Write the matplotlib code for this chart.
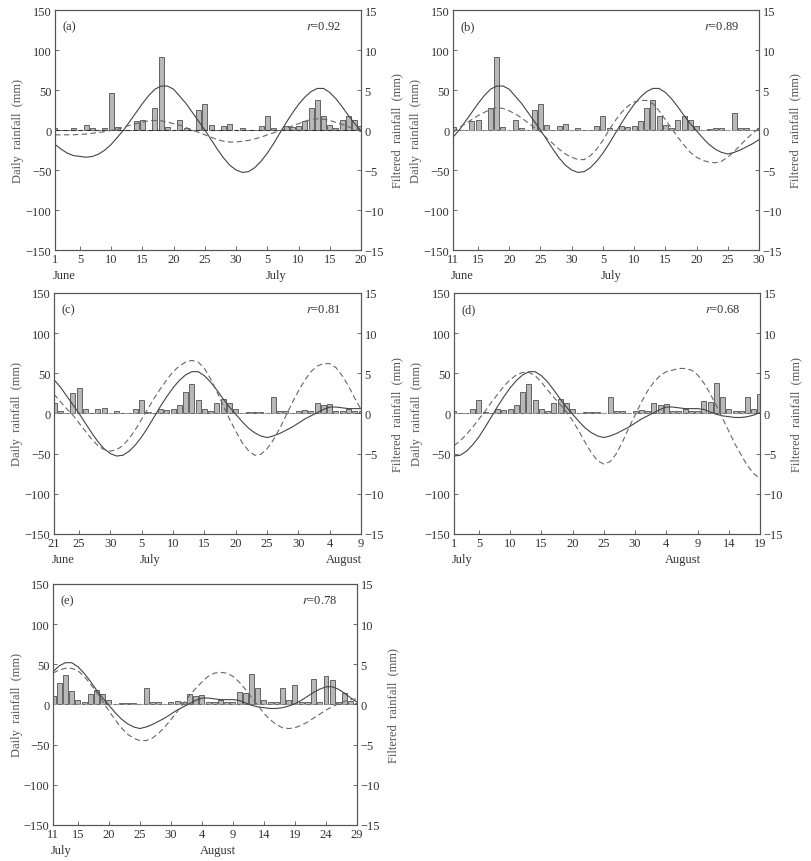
import pandas as pd
import matplotlib
matplotlib.use("Agg")
import matplotlib.pyplot as plt

plt.rcParams["font.family"] = ["Liberation Serif", "DejaVu Serif"]
plt.rcParams["mathtext.fontset"] = "stix"

# one daily series, 1 June - 29 August
dates = pd.date_range("2000-06-01", "2000-08-29")

rain_june = [2, 0, 0, 3, 0, 6, 2, 0, 2, 46, 4, 0, 0, 11, 12, 0, 27, 91, 4, 0,
             13, 3, 0, 25, 32, 6, 0, 5, 7, 0]
rain_july = [2.5, 0, 0, 5, 17, 2, 0, 5, 4, 5, 11, 27, 37, 17, 6, 3, 13, 18, 13, 5,
             0, 1.5, 2, 2, 0, 21, 3, 3, 0, 3, 4]
rain_aug = [3, 13, 10, 12, 3, 3, 5, 3, 3, 16, 14, 38, 20, 6, 3, 3, 20, 6, 24, 3,
            3, 32, 3, 36, 30, 3, 14, 4, 2]
rain = rain_june + rain_july + rain_aug

# filtered observed rainfall (solid line)
filt_june = [-1.8, -2.4, -2.9, -3.2, -3.3, -3.4, -3.3, -3.0, -2.5, -1.8, -0.9, 0.0,
             1.1, 2.2, 3.3, 4.3, 5.1, 5.5, 5.5, 5.1, 4.2, 3.3, 2.2, 1.1, 0.0, -1.2,
             -2.4, -3.5, -4.4, -5.0]
filt_july = [-5.3, -5.2, -4.7, -3.9, -2.9, -1.7, -0.4, 0.9, 2.1, 3.2, 4.1, 4.8, 5.2,
             5.2, 4.7, 3.9, 2.9, 1.8, 0.8, -0.1, -1.0, -1.8, -2.4, -2.8, -3.0, -2.8,
             -2.5, -2.1, -1.7, -1.2, -0.7]
filt_aug = [-0.3, 0.1, 0.5, 0.8, 0.8, 0.7, 0.6, 0.6, 0.6, 0.5, 0.2, -0.1, -0.3, -0.4,
            -0.5, -0.5, -0.4, -0.2, 0.1, 0.5, 1.0, 1.5, 1.9, 2.2, 2.2, 1.9, 1.4, 0.8, 0.3]
filtered = filt_june + filt_july + filt_aug

# predicted filtered rainfall (dashed line), one per panel
pred_a = [-0.6, -0.6, -0.6, -0.6, -0.55, -0.5, -0.4, -0.3, -0.2, -0.05, 0.1, 0.35,
          0.6, 0.8, 1.0, 1.15, 1.2, 1.15, 1.0, 0.8, 0.6, 0.3, 0.0, -0.3, -0.6, -0.9,
          -1.2, -1.4, -1.5, -1.5, -1.4, -1.3, -1.1, -0.9, -0.6, -0.35, -0.1, 0.2,
          0.5, 0.8, 1.1, 1.3, 1.4, 1.35, 1.2, 0.95, 0.7, 0.4, 0.1, -0.2]
pred_b = [-0.3, 0.3, 0.8, 1.3, 1.8, 2.2, 2.6, 2.8, 2.7, 2.4, 2.0, 1.5, 0.9, 0.3,
          -0.2, -1.0, -1.7, -2.4, -3.0, -3.4, -3.7, -3.7, -3.2, -2.4, -1.3, 0.0,
          1.2, 2.2, 3.0, 3.5, 3.7, 3.7, 3.3, 2.4, 1.3, 0.2, -0.9, -1.9, -2.8, -3.4,
          -3.8, -4.0, -4.1, -3.9, -3.4, -2.7, -1.9, -1.1, -0.4, 0.2]
pred_c = [2.4, 1.5, 0.6, -0.2, -1.2, -2.2, -3.2, -4.0, -4.5, -4.7,
          -4.5, -4.0, -3.1, -2.0, -0.7, 0.6, 1.9, 3.1, 4.2, 5.2, 5.9, 6.4, 6.6, 6.4,
          5.6, 4.3, 2.7, 1.0, -0.7, -2.2, -3.6, -4.6, -5.2, -5.1, -4.4, -3.3, -1.9,
          -0.3, 1.3, 2.8, 4.1,
          5.2, 5.9, 6.2, 6.2, 5.7, 4.7, 3.4, 1.9, 0.5]
pred_d = [-4.0, -3.4, -2.6, -1.7, -0.7, 0.3, 1.4, 2.4, 3.4, 4.2, 4.8, 5.1, 5.1, 4.7,
          3.9, 2.9, 2.0, 1.1, 0.2, -0.9, -2.2, -3.6, -4.9, -5.9, -6.3, -6.0, -5.0,
          -3.5, -1.8, -0.2, 1.4,
          2.8, 3.9, 4.7, 5.2, 5.4, 5.6, 5.6, 5.4, 4.8, 3.8, 2.5, 1.0, -0.6, -2.2,
          -3.8, -5.2, -6.5, -7.5, -8.1]
pred_e = [3.9, 4.3, 4.5, 4.5, 4.2, 3.5, 2.6, 1.5, 0.4, -0.8, -1.9, -2.9, -3.7, -4.2,
          -4.5, -4.5, -4.2, -3.6, -2.8, -1.9, -0.9,
          0.1, 1.1, 2.0, 2.8, 3.5, 3.9, 4.0, 3.9, 3.5, 2.8, 1.9, 0.9, -0.1, -1.1,
          -1.9, -2.5, -2.9, -3.0, -2.9, -2.6, -2.2, -1.7, -1.2, -0.7, -0.3, 0.1,
          0.4, 0.6, 0.7]

panels = [
    dict(label="(a)", r="0.92", start="06-01", pred=pred_a,
         ticks=["06-01", "06-05", "06-10", "06-15", "06-20", "06-25", "06-30",
                "07-05", "07-10", "07-15", "07-20"],
         months=[("June", "06-01", "left"), ("July", "07-05", "left")],
         rect=[0.0678, 0.7088, 0.3773, 0.2784]),
    dict(label="(b)", r="0.89", start="06-11", pred=pred_b,
         ticks=["06-11", "06-15", "06-20", "06-25", "06-30", "07-05", "07-10",
                "07-15", "07-20", "07-25", "07-30"],
         months=[("June", "06-11", "left"), ("July", "07-05", "left")],
         rect=[0.5586, 0.7088, 0.3773, 0.2784]),
    dict(label="(c)", r="0.81", start="06-21", pred=pred_c,
         ticks=["06-21", "06-25", "06-30", "07-05", "07-10", "07-15", "07-20",
                "07-25", "07-30", "08-04", "08-09"],
         months=[("June", "06-21", "left"), ("July", "07-05", "left"),
                 ("August", "08-09", "right")],
         rect=[0.0666, 0.3794, 0.3786, 0.2796]),
    dict(label="(d)", r="0.68", start="07-01", pred=pred_d,
         ticks=["07-01", "07-05", "07-10", "07-15", "07-20", "07-25", "07-30",
                "08-04", "08-09", "08-14", "08-19"],
         months=[("July", "07-01", "left"), ("August", "08-04", "left")],
         rect=[0.5598, 0.3794, 0.3773, 0.2796]),
    dict(label="(e)", r="0.78", start="07-11", pred=pred_e,
         ticks=["07-11", "07-15", "07-20", "07-25", "07-30", "08-04", "08-09",
                "08-14", "08-19", "08-24", "08-29"],
         months=[("July", "07-11", "left"), ("August", "08-04", "left")],
         rect=[0.0654, 0.0418, 0.3748, 0.2796]),
]


def day(s):
    return (pd.Timestamp("2000-" + s) - dates[0]).days


axis_col = "#555555"
text_col = "#333333"

fig = plt.figure(figsize=(8.11, 8.62), dpi=100)

for p in panels:
    i0 = day(p["start"])
    x = list(range(i0, i0 + 50))

    ax = fig.add_axes(p["rect"])
    ax2 = ax.twinx()

    ax.bar(x, rain[i0:i0 + 50], width=0.8, color="#b8b8b8",
           edgecolor="#505050", linewidth=0.6, zorder=2)
    ax.axhline(0, color="#333333" if p["label"] == "(a)" else "#999999",
               lw=0.8, ls=(0, (4, 3)), zorder=3)

    ax2.plot(x, filtered[i0:i0 + 50], color="#444444", lw=0.8)
    ax2.plot(x, p["pred"], color="#666666", lw=0.8, ls=(0, (5, 3)))

    ax.set_xlim(i0, i0 + 49)
    ax.set_ylim(-150, 150)
    ax2.set_ylim(-15, 15)
    ax.set_yticks(range(-150, 151, 50))
    ax2.set_yticks(range(-15, 16, 5))
    ax.set_xticks([day(t) for t in p["ticks"]])
    ax.set_xticklabels([str(int(t[3:])) for t in p["ticks"]])

    for a in (ax, ax2):
        a.tick_params(direction="in", length=3, width=0.6, colors=axis_col,
                      labelcolor=text_col, labelsize=9, pad=2.5)
        for s in a.spines.values():
            s.set_color(axis_col)
            s.set_linewidth(0.8)

    ax.set_ylabel("Daily  rainfall  (mm)", fontsize=9, color="#555555")
    ax2.set_ylabel("Filtered  rainfall  (mm)", fontsize=9, color="#555555")
    ax.yaxis.set_label_coords(-0.1, 0.5)
    ax2.yaxis.set_label_coords(1.1, 0.5)

    for name, s, ha in p["months"]:
        xm = day(s) + (0.15 if ha == "right" else -0.3)
        ax.text(xm, -0.105, name, transform=ax.get_xaxis_transform(),
                ha=ha, va="center", fontsize=9, color=text_col)

    ax.text(0.026, 0.933, p["label"], transform=ax.transAxes,
            ha="left", va="center", fontsize=9, color=text_col)
    ax.text(0.935, 0.933, "$r$=" + p["r"], transform=ax.transAxes,
            ha="right", va="center", fontsize=9, color=text_col)

fig.savefig("out.png", dpi=100)
